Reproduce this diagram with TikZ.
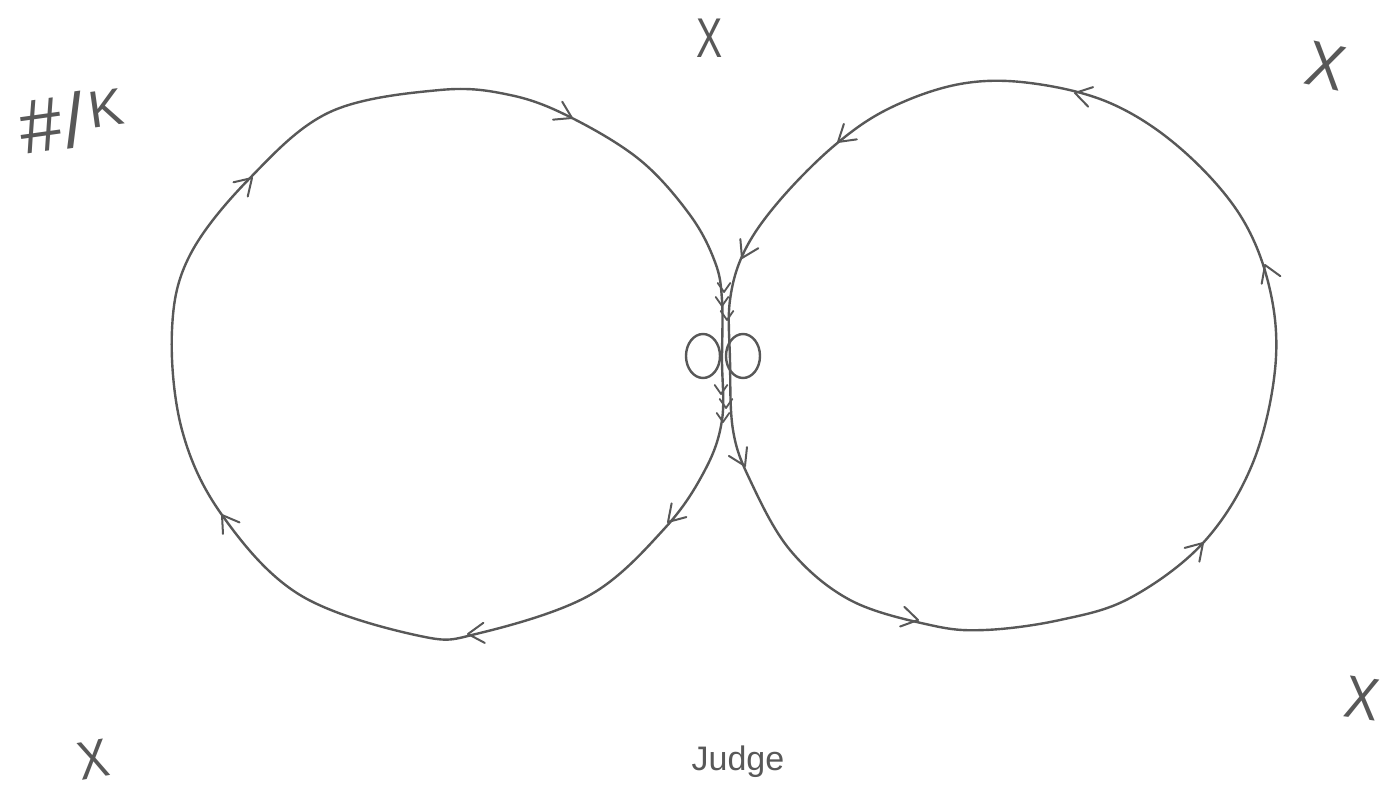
\documentclass[tikz,border=0pt]{standalone}
\usepackage{fontspec}
\setmainfont{Liberation Sans}
\usetikzlibrary{calc}
\definecolor{pencil}{RGB}{88,88,88}
\tikzset{
  loopline/.style={draw=pencil, line width=1.2pt, line join=round},
  barb/.style={draw=pencil, line width=1pt, line cap=round, line join=round},
  xmark/.style={text=pencil, font=\fontsize{28}{30}\selectfont, inner sep=0pt},
  txtlabel/.style={text=pencil, inner sep=0pt}
}
\begin{document}
\begin{tikzpicture}[x=0.5pt,y=-0.5pt]
\useasboundingbox[fill=white] (0,0) rectangle (1399,796);
% left loop (clockwise on screen)
\draw[loopline] plot[smooth cycle, tension=0.6] coordinates {
 (722,300) (722,360) (722,420) (705,470) (665,528) (590,595) (480,633) (420,636)
 (300,595) (222,515) (182,430) (172,330) (190,255) (250,178) (330,112) (440,90)
 (510,95) (570,117) (640,160) (690,215) (715,262)};
% right loop (counter-clockwise on screen)
\draw[loopline] plot[smooth cycle, tension=0.6] coordinates {
 (730,300) (730,360) (733,430) (750,480) (790,550) (850,600) (930,625) (985,630)
 (1060,620) (1130,598) (1203,543) (1252,465) (1275,370) (1270,290) (1240,215)
 (1180,148) (1110,103) (1030,83) (960,84) (890,108) (835,145) (780,200) (745,250)};
% small loops in the middle
\draw[loopline] (703,356) ellipse[x radius=17, y radius=22];
\draw[loopline] (743,356) ellipse[x radius=17, y radius=22];
% open arrowheads on both loops (tip at x,y pointing along angle a, screen angles)
\foreach \x/\y/\a in {252/178/-45, 572/118/27, 668/522/133, 468/634/176, 222/515/-125,
                      742/258/117, 838/142/140, 1075/93/194, 1265/265/-112, 1203/543/-47, 918/620/12, 745/466/64}
  \draw[barb] ($(\x,\y)+(\a+180-32:19)$) -- (\x,\y) -- ($(\x,\y)+(\a+180+32:19)$);
% ticks along the central band
\foreach \x/\y in {724/292, 722/306, 727/320, 721/394, 726/408, 723/422}
  \draw[barb, line width=0.9pt] ($(\x,\y)+(270-35:11)$) -- (\x,\y) -- ($(\x,\y)+(270+35:11)$);
% markers and labels
\node[xmark, xscale=0.7] (xtop) at (710,38) {X};
\node[xmark, rotate=-12, xscale=0.9, font=\fontsize{32}{34}\selectfont] (xtr) at (1326,66) {X};
\node[xmark, rotate=-8, xscale=0.85, font=\fontsize{30}{32}\selectfont] (xbr) at (1362,698) {X};
\node[xmark, rotate=10, xscale=0.85, font=\fontsize{27}{29}\selectfont] (xbl) at (93,760) {X};
\node[txtlabel, font=\fontsize{38}{40}\selectfont, rotate=8] (hk) at (72,120) {\#\kern1pt/\kern3pt\raisebox{8pt}{\fontsize{26}{28}\selectfont K}};
\node[txtlabel, font=\fontsize{17}{19}\selectfont] (judge) at (738,762) {Judge};
\end{tikzpicture}
\end{document}
